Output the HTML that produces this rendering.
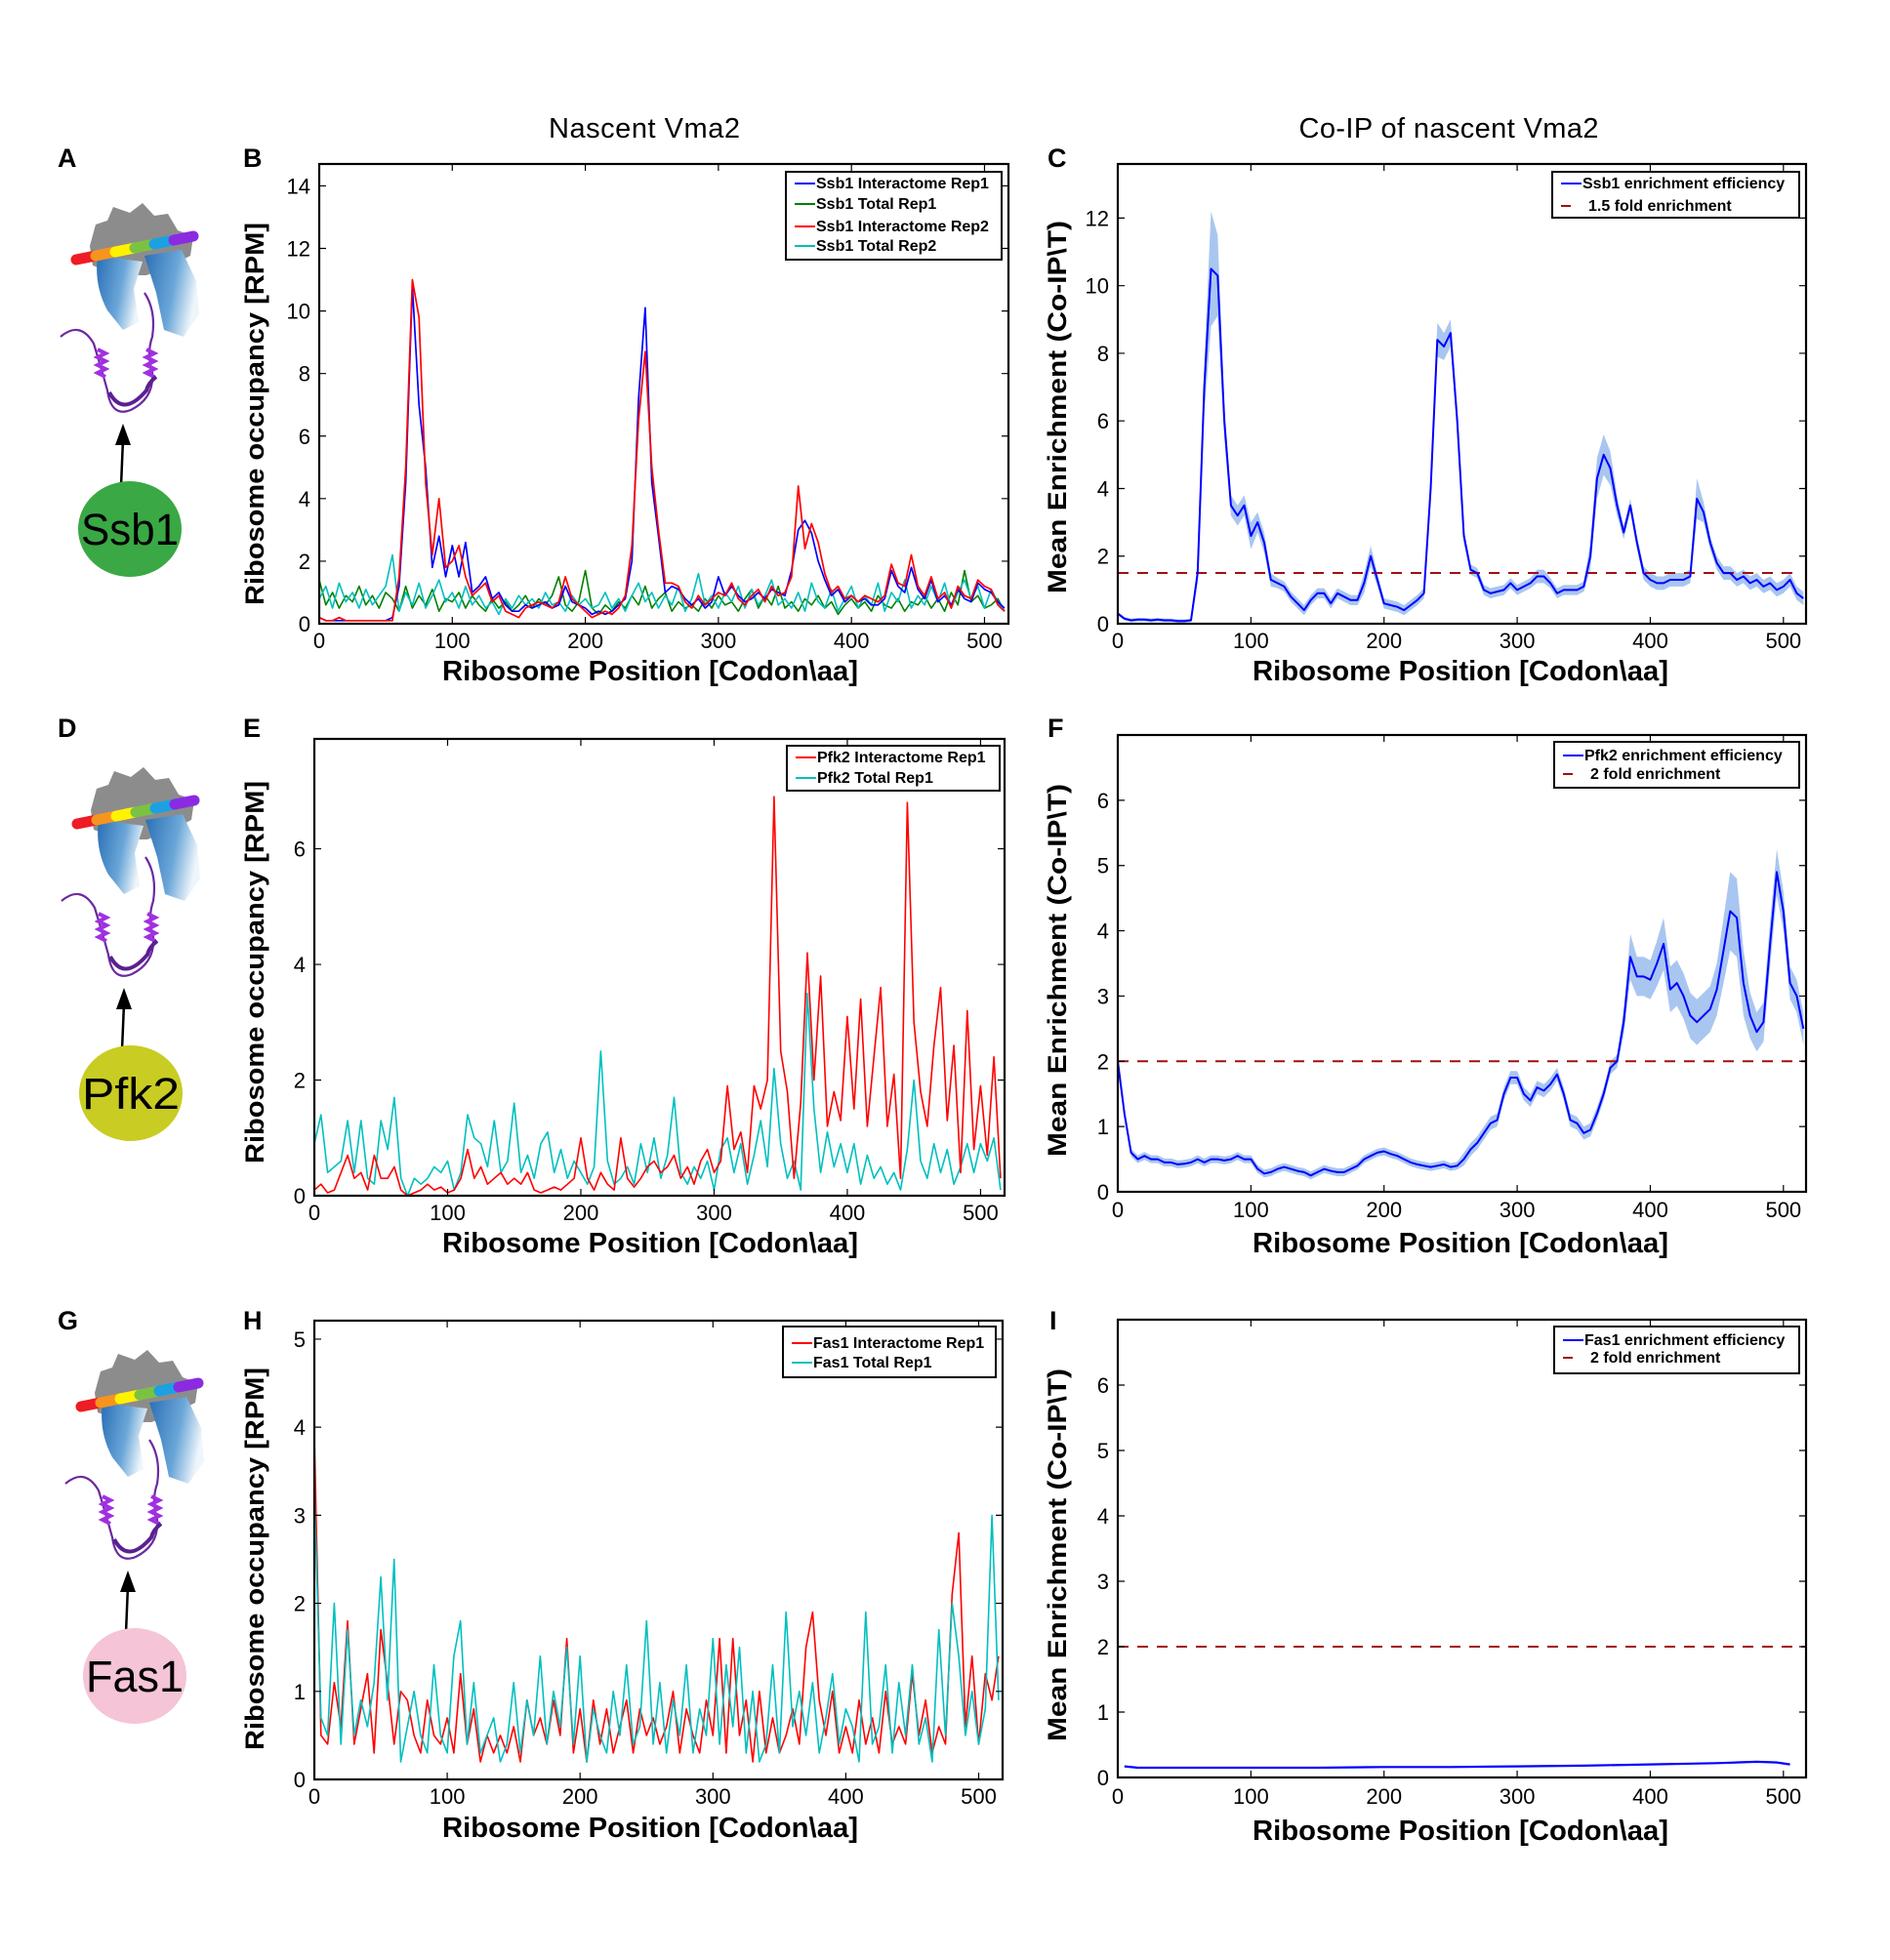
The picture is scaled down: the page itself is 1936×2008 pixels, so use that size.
<!DOCTYPE html>
<html><head><meta charset="utf-8"><style>
html,body{margin:0;padding:0;background:#fff;}
svg{display:block;}
text{font-family:"Liberation Sans",sans-serif;}
</style></head>
<body>
<svg id="fig" xmlns="http://www.w3.org/2000/svg" width="1936" height="2008" viewBox="0 0 1936 2008">
<defs>
<linearGradient id="blueg" x1="0" y1="0" x2="1" y2="0.3">
<stop offset="0" stop-color="#2a6fb5"/><stop offset="0.6" stop-color="#6aa6d8"/><stop offset="1" stop-color="#eef5fb"/>
</linearGradient>
</defs>
<rect width="1936" height="2008" fill="#fff"/>
<text x="660" y="141" font-size="29" text-anchor="middle" textLength="196">Nascent Vma2</text>
<text x="1484" y="141" font-size="29" text-anchor="middle" textLength="307">Co-IP of nascent Vma2</text>
<g font-weight="bold" font-size="27">
<text x="59" y="171">A</text>
<text x="249" y="171">B</text>
<text x="1073" y="171">C</text>
<text x="59" y="755">D</text>
<text x="249" y="755">E</text>
<text x="1073" y="755">F</text>
<text x="59" y="1362">G</text>
<text x="249" y="1362">H</text>
<text x="1075" y="1362">I</text>
</g>
<g id="cartoons"></g>
<g id="charts"></g>
</svg>
<script>
// ---------------- DATA ----------------
const STEP = 5; // codon spacing of the sampled profiles
const xTicks = [0,100,200,300,400,500];
const yTicksB = [0,2,4,6,8,10,12,14];
const yTicksC = [0,2,4,6,8,10,12];
const yTicksE = [0,2,4,6];
const yTicksF = [0,1,2,3,4,5,6];
const yTicksH = [0,1,2,3,4,5];
const yTicksI = [0,1,2,3,4,5,6];

const ssb1InterRep1 = [0.2,0.1,0.1,0.1,0.1,0.1,0.1,0.1,0.1,0.1,0.1,0.2,
1.2,4.5,10.8,7.0,5.0,1.8,2.8,1.5,2.5,1.5,2.6,1.0,1.2,1.5,0.8,1.0,0.6,0.4,0.4,0.6,0.5,0.6,0.7,0.5,0.6,1.2,0.7,0.6,0.5,0.3,0.4,0.3,0.4,0.6,0.8,2.0,7.2,10.1,4.5,2.8,1.0,1.2,1.1,0.8,0.6,0.8,0.5,0.7,1.5,0.9,1.2,0.9,0.7,0.8,1.0,0.8,1.1,1.0,0.9,1.7,3.0,3.3,2.9,2.0,1.4,0.9,1.1,0.7,0.9,0.7,0.8,0.6,0.6,0.8,1.7,1.2,1.0,1.8,1.1,0.8,1.4,0.7,0.9,0.6,1.1,0.8,0.7,1.3,1.1,1.0,0.7,0.5];
const ssb1TotalRep1 = [1.4,0.6,1.0,0.5,0.9,0.7,1.2,0.6,0.9,0.5,1.0,0.8,0.4,1.2,0.5,0.9,0.6,1.1,0.4,0.8,0.7,1.0,0.5,0.9,0.6,0.4,0.8,0.5,0.7,0.4,0.6,0.9,0.5,0.8,0.6,0.9,1.5,0.6,0.4,0.7,1.7,0.5,0.3,0.6,0.4,0.7,0.5,0.9,0.6,1.2,0.5,0.8,1.0,0.4,0.7,0.5,0.6,0.4,0.8,0.5,0.9,0.6,0.7,0.4,0.8,1.1,0.5,0.9,0.6,1.2,0.5,0.7,0.4,0.8,0.6,0.9,0.5,0.7,0.3,0.6,0.8,0.5,0.7,0.4,0.9,0.6,0.5,0.8,0.4,0.7,0.6,0.9,0.5,0.8,0.4,1.0,0.6,1.7,0.7,0.9,0.5,0.6,0.8,0.4];
const ssb1InterRep2 = [0.2,0.1,0.1,0.2,0.1,0.1,0.1,0.1,0.1,0.1,0.1,0.1,
1.5,5.0,11.0,9.8,4.5,2.2,4.0,1.8,2.0,2.5,1.5,0.9,1.1,1.3,0.7,0.9,0.4,0.3,0.2,0.5,0.6,0.7,0.6,0.5,0.7,1.5,0.8,0.6,0.4,0.2,0.3,0.4,0.3,0.5,0.9,2.5,6.5,8.7,5.0,3.0,1.3,1.3,1.2,0.7,0.5,0.9,0.6,0.8,1.0,0.9,1.3,0.8,0.6,0.9,1.1,0.7,1.2,0.9,1.0,1.5,4.4,2.4,3.2,2.6,1.6,1.0,1.2,0.8,0.9,0.7,0.9,0.8,0.7,0.9,1.9,1.3,1.2,2.2,1.2,0.9,1.5,0.8,1.0,0.5,1.2,0.9,0.8,1.4,1.2,1.1,0.6,0.4];
const ssb1TotalRep2 = [0.8,1.2,0.5,1.3,0.7,1.0,0.5,1.1,0.6,0.9,1.2,2.2,0.4,1.0,0.6,1.3,0.5,0.9,1.4,0.7,1.0,0.5,1.2,0.6,0.9,0.5,0.7,0.3,0.8,0.5,0.9,0.6,0.8,0.5,1.0,0.6,0.7,0.4,0.9,0.6,0.8,0.5,0.6,1.0,0.5,0.8,0.4,0.9,1.3,0.7,1.0,0.5,0.9,0.6,1.2,0.4,0.8,1.6,0.6,0.9,0.5,1.0,0.7,1.2,0.5,1.1,0.6,0.9,1.4,0.6,0.8,0.5,1.0,0.4,1.3,0.7,0.5,1.1,0.4,0.8,1.2,0.5,0.9,0.6,1.3,0.4,1.0,0.7,1.4,0.5,0.9,0.6,1.2,0.7,1.3,0.5,1.0,1.4,0.8,1.2,0.5,1.1,0.7,0.4];

const ssb1Enrich = [0.3,0.15,0.1,0.12,0.12,0.1,0.12,0.1,0.1,0.08,0.08,0.1,
1.5,7.0,10.5,10.3,6.0,3.5,3.2,3.5,2.6,3.0,2.4,1.3,1.2,1.1,0.8,0.6,0.4,0.7,0.9,0.9,0.6,0.9,0.8,0.7,0.7,1.2,2.0,1.3,0.6,0.55,0.5,0.4,0.55,0.7,0.9,4.0,8.4,8.2,8.6,6.0,2.6,1.6,1.5,1.0,0.9,0.95,1.0,1.2,1.0,1.1,1.2,1.4,1.4,1.2,0.9,1.0,1.0,1.0,1.1,2.0,4.3,5.0,4.6,3.5,2.7,3.5,2.4,1.5,1.3,1.2,1.2,1.3,1.3,1.3,1.4,3.7,3.3,2.4,1.8,1.5,1.5,1.3,1.4,1.2,1.3,1.1,1.2,1.0,1.1,1.3,0.9,0.75];
const ssb1Spread = [0.05,0.05,0.05,0.05,0.05,0.05,0.05,0.05,0.05,0.05,0.05,0.05,
0.3,0.8,1.7,1.2,0.5,0.3,0.3,0.3,0.4,0.3,0.3,0.2,0.15,0.15,0.15,0.15,0.15,0.15,0.15,0.15,0.15,0.15,0.15,0.15,0.15,0.3,0.3,0.2,0.15,0.15,0.15,0.15,0.15,0.15,0.15,0.4,0.5,0.4,0.4,0.3,0.2,0.15,0.15,0.15,0.15,0.15,0.15,0.15,0.15,0.15,0.15,0.2,0.2,0.15,0.15,0.15,0.15,0.15,0.15,0.4,0.6,0.6,0.5,0.3,0.2,0.2,0.2,0.2,0.2,0.2,0.2,0.2,0.2,0.2,0.2,0.6,0.3,0.2,0.2,0.2,0.2,0.2,0.2,0.2,0.2,0.2,0.2,0.2,0.2,0.2,0.2,0.2];
const ssb1Threshold = 1.5;

const pfk2Inter = [0.1,0.2,0.05,0.1,0.4,0.7,0.3,0.4,0.1,0.7,0.3,0.3,0.5,0.1,0.0,0.05,0.1,0.2,0.1,0.15,0.05,0.1,0.3,0.8,0.3,0.5,0.2,0.3,0.4,0.2,0.3,0.2,0.4,0.1,0.05,0.1,0.15,0.1,0.2,0.3,1.0,0.3,0.1,0.4,0.2,0.1,1.0,0.3,0.15,0.3,0.5,0.6,0.4,0.5,0.7,0.3,0.5,0.2,0.6,0.8,0.4,0.6,1.9,0.8,1.1,0.4,1.9,1.5,2.0,6.9,2.5,1.8,0.3,1.6,4.2,2.0,3.8,1.2,1.8,1.3,3.1,1.5,3.4,1.2,2.4,3.6,1.2,2.1,0.3,6.8,3.0,1.8,1.2,2.6,3.6,1.3,2.6,0.4,3.2,0.8,1.9,0.7,2.4,0.3];
const pfk2Total = [0.9,1.4,0.4,0.5,0.6,1.3,0.4,1.3,0.3,0.2,1.3,0.8,1.7,0.3,0.0,0.3,0.2,0.3,0.5,0.4,0.6,0.1,0.4,1.4,1.0,0.9,0.5,1.3,0.4,0.6,1.6,0.4,0.7,0.3,0.9,1.1,0.4,0.8,0.3,0.6,0.4,0.2,0.5,2.5,0.6,0.2,0.3,0.5,0.2,0.9,0.4,1.0,0.3,0.7,1.7,0.4,0.2,0.5,0.3,0.6,0.1,0.8,1.0,0.4,0.9,0.2,0.7,1.3,0.5,2.2,0.9,0.3,0.6,0.1,3.5,1.5,0.4,1.1,0.5,0.9,0.4,0.9,0.2,0.7,0.3,0.5,0.2,0.4,0.1,0.8,2.0,0.6,0.3,0.9,0.4,0.8,0.2,0.5,0.9,0.4,0.9,0.6,1.0,0.1];

const pfk2Enrich = [2.0,1.2,0.6,0.5,0.55,0.5,0.5,0.45,0.45,0.42,0.43,0.45,0.5,0.45,0.5,0.5,0.48,0.5,0.55,0.5,0.5,0.35,0.28,0.3,0.35,0.38,0.35,0.32,0.3,0.25,0.3,0.35,0.32,0.3,0.3,0.35,0.4,0.5,0.55,0.6,0.62,0.58,0.55,0.5,0.45,0.42,0.4,0.38,0.4,0.42,0.38,0.4,0.5,0.65,0.75,0.9,1.05,1.1,1.5,1.75,1.75,1.5,1.4,1.6,1.55,1.65,1.8,1.5,1.1,1.05,0.9,0.95,1.2,1.5,1.9,2.0,2.6,3.6,3.3,3.3,3.25,3.5,3.8,3.1,3.2,3.0,2.7,2.6,2.7,2.8,3.1,3.7,4.3,4.2,3.2,2.7,2.45,2.6,3.8,4.9,4.3,3.2,3.0,2.5];
const pfk2Spread = [0.06,0.06,0.06,0.06,0.06,0.06,0.06,0.06,0.06,0.06,0.06,0.06,0.06,0.06,0.06,0.06,0.06,0.06,0.06,0.06,0.06,0.06,0.06,0.06,0.06,0.06,0.06,0.06,0.06,0.06,0.06,0.06,0.06,0.06,0.06,0.06,0.06,0.06,0.06,0.06,0.06,0.06,0.06,0.06,0.06,0.06,0.06,0.06,0.06,0.06,0.06,0.06,
0.1,0.1,0.1,0.1,0.1,0.1,0.1,0.1,0.1,0.1,0.1,0.1,0.1,0.1,0.1,0.1,0.1,0.1,0.1,0.1,0.1,0.1,0.1,0.1,
0.2,0.35,0.3,0.3,0.3,0.35,0.4,0.35,0.35,0.35,0.35,0.35,0.35,0.35,0.4,0.5,0.6,0.6,0.5,0.35,0.3,0.3,0.35,0.35,0.3,0.25,0.25,0.25];
const pfk2Threshold = 2;

const fas1Inter = [3.9,0.5,0.4,1.1,0.6,1.8,0.4,0.8,1.2,0.3,1.7,1.1,0.4,1.0,0.9,0.5,0.3,0.9,0.5,0.4,0.7,0.3,1.2,0.4,0.8,0.2,0.5,0.3,0.5,0.3,0.6,0.2,0.9,0.5,0.7,0.4,0.9,0.5,1.6,0.3,0.8,0.2,0.9,0.4,0.8,0.3,0.6,0.9,0.3,0.8,0.5,0.7,0.4,0.6,1.0,0.3,0.8,0.5,0.3,0.9,0.5,1.6,0.3,1.6,0.5,0.9,0.2,1.0,0.3,0.7,0.3,0.5,0.8,0.4,1.5,1.9,0.9,0.5,1.0,0.3,0.6,0.3,0.9,0.4,0.7,0.3,1.0,0.4,0.6,0.4,1.2,0.5,0.9,0.3,0.6,0.4,2.1,2.8,0.6,1.4,0.4,1.2,0.9,1.4];
const fas1Total = [3.3,0.7,0.5,2.0,0.4,1.7,0.5,0.9,0.6,1.1,2.3,0.9,2.5,0.2,0.6,1.0,0.5,0.3,1.3,0.5,0.3,1.4,1.8,0.4,1.1,0.3,0.5,0.7,0.2,0.4,1.1,0.3,0.9,0.5,1.4,0.4,1.0,0.6,1.5,0.4,1.4,0.2,0.8,0.5,0.3,1.0,0.5,1.3,0.4,0.6,1.8,0.4,1.1,0.3,0.9,0.5,1.3,0.3,0.8,0.5,1.6,0.4,1.3,0.6,1.5,0.3,1.0,0.2,0.4,1.3,0.3,1.9,0.6,1.0,0.5,1.1,0.3,0.7,1.2,0.4,0.8,0.6,0.2,1.9,0.4,0.6,1.3,0.3,1.1,0.5,1.3,0.4,0.7,0.2,1.7,0.5,2.0,1.4,0.5,1.0,0.4,0.8,3.0,0.9];

const fas1EnrichPos = [5,15,50,100,150,200,250,300,350,400,450,480,495,505];
const fas1Enrich = [0.17,0.15,0.15,0.15,0.15,0.16,0.16,0.17,0.18,0.2,0.22,0.24,0.23,0.2];
const fas1Threshold = 2;

// ---------------- DRAWING ----------------
const NS = 'http://www.w3.org/2000/svg';
const fig = document.getElementById('charts');
function mk(tag, attrs, parent){
  const e = document.createElementNS(NS, tag);
  for (const k in attrs) e.setAttribute(k, attrs[k]);
  (parent||fig).appendChild(e);
  return e;
}
function makeAxes(box, xmax, ymax){
  return {
    sx: v => box.l + v / xmax * (box.r - box.l),
    sy: v => box.b - v / ymax * (box.b - box.t)
  };
}
function frame(g, box, ax, yticks, xlabY, ylabel, ylabX, ylabY, ylabLen, xlabBase, xlabX){
  xTicks.forEach(t=>{
    const x = ax.sx(t);
    const tk = mk('path',{d:`M${x},${box.b}v-7M${x},${box.t}v7`,stroke:'#000','stroke-width':1.2},g);
    
    
    const lb = mk('text',{x:x,y:xlabY,'font-size':22,'text-anchor':'middle'},g);
    lb.textContent = t;
    
    
  });
  yticks.forEach(t=>{
    const y = ax.sy(t);
    const tk = mk('path',{d:`M${box.l},${y}h7M${box.r},${y}h-7`,stroke:'#000','stroke-width':1.2},g);
    
    
    const lb = mk('text',{x:box.l-9,y:y+8,'font-size':22,'text-anchor':'end'},g);
    lb.textContent = t;
    
    
  });
  const sp = mk('rect',{x:box.l,y:box.t,width:box.r-box.l,height:box.b-box.t,fill:'none',stroke:'#000','stroke-width':2.2},g);
  
  
  const xl = mk('text',{x:xlabX,y:xlabBase,'font-size':29,'font-weight':'bold','text-anchor':'middle',textLength:426,lengthAdjust:'spacingAndGlyphs'},g);
  xl.textContent = 'Ribosome Position [Codon\\aa]';
  
  
  const yl = mk('text',{x:0,y:0,'font-size':27,'font-weight':'bold','text-anchor':'middle',textLength:ylabLen,lengthAdjust:'spacingAndGlyphs',transform:`translate(${ylabX},${ylabY}) rotate(-90)`,'font-family':'"DejaVu Sans",sans-serif'},g);
  yl.textContent = ylabel;
  
  
}
function clip(g, box, id){
  const cp = mk('clipPath',{id:id},g);
  mk('rect',{x:box.l,y:box.t,width:box.r-box.l,height:box.b-box.t},cp);
  return mk('g',{'clip-path':`url(#${id})`},g);
}
function series(g, ax, vals, color, width, name, pos){
  const pts = vals.map((v,i)=>`${ax.sx(pos?pos[i]:i*STEP).toFixed(1)},${ax.sy(v).toFixed(1)}`);
  const p = mk('polyline',{points:pts.join(' '),fill:'none',stroke:color,'stroke-width':width,'stroke-linejoin':'round'},g);
  
  
  return p;
}
function band(g, ax, vals, spread, name){
  const up = vals.map((v,i)=>`${ax.sx(i*STEP).toFixed(1)},${ax.sy(v+spread[i]).toFixed(1)}`);
  const lo = vals.map((v,i)=>`${ax.sx(i*STEP).toFixed(1)},${ax.sy(Math.max(0,v-spread[i])).toFixed(1)}`).reverse();
  const p = mk('polygon',{points:up.concat(lo).join(' '),fill:'#a9c6f0',stroke:'none'},g);
  
  
}
function threshold(g, ax, xmax, val){
  const p = mk('line',{x1:ax.sx(0),x2:ax.sx(xmax),y1:ax.sy(val),y2:ax.sy(val),stroke:'#a01010','stroke-width':2,'stroke-dasharray':'11,9'},g);
  
  
}
function legend(g, bx, entries, fs){
  const r = mk('rect',{x:bx.l,y:bx.t,width:bx.r-bx.l,height:bx.b-bx.t,fill:'#fff',stroke:'#000','stroke-width':2},g);
  
  
  entries.forEach(en=>{
    const ln = mk('line',{x1:bx.l+9,x2:bx.l+30,y1:en.y,y2:en.y,stroke:en.c,'stroke-width':2,'stroke-dasharray':en.dash?'10,100':'none'},g);
    
    
    const t = mk('text',{x:bx.l+(en.dash?37:31),y:en.y+5,'font-size':fs,'font-weight':'bold'},g);
    t.textContent = en.t;
    
    
  });
}

// Panel B
(function(){
  const box={l:327,t:168,r:1033,b:639};
  const ax=makeAxes(box,518,14.7);
  const g=mk('g',{});  
  const c=clip(g,box,'cb');
  series(c,ax,ssb1TotalRep1,'#008000',1.6,'ssb1-total-rep1-line');
  series(c,ax,ssb1TotalRep2,'#00bfbf',1.6,'ssb1-total-rep2-line');
  series(c,ax,ssb1InterRep1,'#0000ff',1.7,'ssb1-interactome-rep1-line');
  series(c,ax,ssb1InterRep2,'#ff0000',1.7,'ssb1-interactome-rep2-line');
  frame(g,box,ax,yTicksB,664,'Ribosome occupancy [RPM]',270,424,392,697,666);
  legend(g,{l:805,t:176,r:1026,b:266},[{t:'Ssb1 Interactome Rep1',c:'#0000ff',y:188},{t:'Ssb1 Total Rep1',c:'#008000',y:209},{t:'Ssb1 Interactome Rep2',c:'#ff0000',y:232},{t:'Ssb1 Total Rep2',c:'#00bfbf',y:252}],16);
})();
// Panel C
(function(){
  const box={l:1145,t:168,r:1850,b:639};
  const ax=makeAxes(box,517,13.6);
  const g=mk('g',{});  
  const c=clip(g,box,'cc');
  band(c,ax,ssb1Enrich,ssb1Spread,'ssb1-error-band');
  threshold(c,ax,510,ssb1Threshold);
  series(c,ax,ssb1Enrich,'#0000ff',2,'ssb1-enrichment-line');
  frame(g,box,ax,yTicksC,664,'Mean Enrichment (Co-IP\\T)',1092,417,382,697,1496);
  legend(g,{l:1590,t:176,r:1843,b:223},[{t:'Ssb1 enrichment efficiency',c:'#0000ff',y:188},{t:'1.5 fold enrichment',c:'#a01010',y:211,dash:true}],16);
})();
// Panel E
(function(){
  const box={l:322,t:757,r:1029,b:1225};
  const ax=makeAxes(box,518,7.9);
  const g=mk('g',{});  
  const c=clip(g,box,'ce');
  series(c,ax,pfk2Total,'#00bfbf',1.6,'pfk2-total-rep1-line');
  series(c,ax,pfk2Inter,'#ff0000',1.6,'pfk2-interactome-rep1-line');
  frame(g,box,ax,yTicksE,1250,'Ribosome occupancy [RPM]',270,996,392,1283,666);
  legend(g,{l:806,t:764,r:1024,b:810},[{t:'Pfk2 Interactome Rep1',c:'#ff0000',y:776},{t:'Pfk2 Total Rep1',c:'#00bfbf',y:797}],16);
})();
// Panel F
(function(){
  const box={l:1145,t:753,r:1850,b:1221};
  const ax=makeAxes(box,517,7);
  const g=mk('g',{});  
  const c=clip(g,box,'cf');
  band(c,ax,pfk2Enrich,pfk2Spread,'pfk2-error-band');
  threshold(c,ax,517,pfk2Threshold);
  series(c,ax,pfk2Enrich,'#0000ff',2,'pfk2-enrichment-line');
  frame(g,box,ax,yTicksF,1247,'Mean Enrichment (Co-IP\\T)',1092,994,382,1283,1496);
  legend(g,{l:1592,t:760,r:1843,b:807},[{t:'Pfk2 enrichment efficiency',c:'#0000ff',y:774},{t:'2 fold enrichment',c:'#a01010',y:793,dash:true}],16);
})();
// Panel H
(function(){
  const box={l:322,t:1353,r:1027,b:1823};
  const ax=makeAxes(box,518,5.21);
  const g=mk('g',{});  
  const c=clip(g,box,'ch');
  series(c,ax,fas1Inter,'#ff0000',1.6,'fas1-interactome-rep1-line');
  series(c,ax,fas1Total,'#00bfbf',1.6,'fas1-total-rep1-line');
  frame(g,box,ax,yTicksH,1848,'Ribosome occupancy [RPM]',270,1597,392,1882,666);
  legend(g,{l:802,t:1359,r:1020,b:1411},[{t:'Fas1 Interactome Rep1',c:'#ff0000',y:1376},{t:'Fas1 Total Rep1',c:'#00bfbf',y:1396}],16);
})();
// Panel I
(function(){
  const box={l:1145,t:1352,r:1850,b:1821};
  const ax=makeAxes(box,517,7);
  const g=mk('g',{});  
  const c=clip(g,box,'ci');
  threshold(c,ax,517,fas1Threshold);
  series(c,ax,fas1Enrich,'#0000ff',2.2,'fas1-enrichment-line',fas1EnrichPos);
  frame(g,box,ax,yTicksI,1848,'Mean Enrichment (Co-IP\\T)',1092,1593,382,1885,1496);
  legend(g,{l:1592,t:1359,r:1843,b:1407},[{t:'Fas1 enrichment efficiency',c:'#0000ff',y:1373},{t:'2 fold enrichment',c:'#a01010',y:1391,dash:true}],16);
})();

// ---------------- CARTOONS ----------------
const cart = document.getElementById('cartoons');
const rows = [{dx:0,dy:0,label:'Ssb1',fill:'#3aa845',name:'ssb1'},{dx:1,dy:578,label:'Pfk2',fill:'#c9cc22',name:'pfk2'},{dx:5,dy:1175,label:'Fas1',fill:'#f5c4d6',name:'fas1'}];
const rainbow = ['#ee1c24','#f7941d','#fff200','#7cc242','#1ba1e2','#8a2be2'];
rows.forEach(r=>{
  const g = mk('g',{transform:`translate(${r.dx},${r.dy})`},cart);
  
  
  mk('path',{d:'M92,252 L98,230 L110,226 L116,212 L133,218 L146,208 L158,221 L172,219 L182,236 L198,242 L195,262 L172,274 L150,282 L122,282 L95,272 Z',fill:'#8c8c8c'},g);
  mk('path',{d:'M100,262 Q96,292 110,318 L126,338 L142,330 L137,296 L146,268 Z',fill:'url(#blueg)'},g);
  mk('path',{d:'M148,262 L186,256 L201,288 L204,322 L188,345 L168,338 L160,300 Z',fill:'url(#blueg)'},g);
  for(let i=0;i<6;i++){
    const x1=78+i*20, y1=266-i*4;
    mk('line',{x1:x1,y1:y1,x2:x1+20,y2:y1-4,stroke:rainbow[i],'stroke-width':11,'stroke-linecap':'round'},g);
  }
  mk('path',{d:'M62,345 Q82,328 96,352 Q104,378 110,400 Q114,428 134,420 Q158,408 156,382 Q150,362 156,345 Q160,318 148,300',fill:'none',stroke:'#6a2aa0','stroke-width':2.2},g);
  mk('path',{d:'M100,358 l8,4 l-8,4 l8,4 l-8,4 l8,4 l-8,4 l8,4 M150,358 l8,4 l-8,4 l8,4 l-8,4 l8,4 l-8,4 l8,4',fill:'none',stroke:'#a030e0','stroke-width':4},g);
  mk('path',{d:'M112,402 Q126,428 150,400 Q152,392 160,386',fill:'none',stroke:'#5a2090','stroke-width':4},g);
  mk('line',{x1:124,y1:498,x2:126,y2:450,stroke:'#000','stroke-width':2.5},g);
  mk('polygon',{points:'126,434 118,456 134,456',fill:'#000'},g);
  const el = mk('ellipse',{cx:133,cy:542,rx:53,ry:49,fill:r.fill},g);
  
  
  const t = mk('text',{x:133,y:558,'font-size':45,'text-anchor':'middle',textLength:100,lengthAdjust:'spacingAndGlyphs'},g);
  t.textContent = r.label;
  
  
});
</script>
</body></html>
